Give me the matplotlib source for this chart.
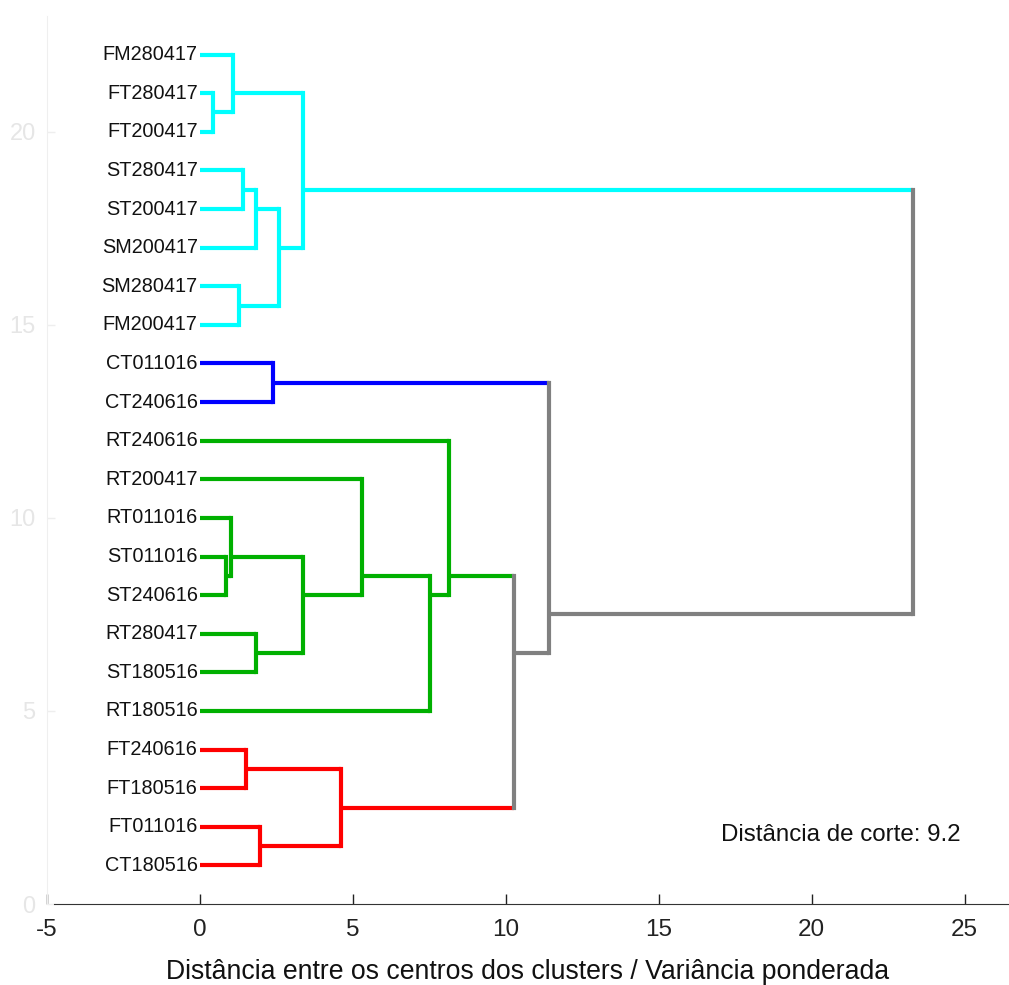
import numpy as np
import matplotlib
matplotlib.use("Agg")
import matplotlib.pyplot as plt

plt.rcParams['font.family'] = ['Liberation Sans', 'DejaVu Sans']
plt.rcParams['axes.unicode_minus'] = False

# Leaf labels, from bottom (y=1) to top (y=22)
labels = ['CT180516', 'FT011016', 'FT180516', 'FT240616', 'RT180516', 'ST180516',
          'RT280417', 'ST240616', 'ST011016', 'RT011016', 'RT200417', 'RT240616',
          'CT240616', 'CT011016', 'FM200417', 'SM280417', 'SM200417', 'ST200417',
          'ST280417', 'FT200417', 'FT280417', 'FM280417']

# Linkage: child a, child b, merge distance (new nodes numbered from 22 upward)
link_a = [7, 20, 9, 21, 15, 18, 3, 6, 27, 1, 13, 30, 24, 25, 28, 10, 37, 11, 39, 32, 35]
link_b = [8, 19, 22, 23, 14, 17, 2, 5, 16, 0, 12, 26, 29, 33, 31, 34, 4, 38, 36, 40, 41]
link_d = [0.85, 0.44, 1.03, 1.09, 1.29, 1.42, 1.52, 1.83, 1.85, 1.98, 2.40, 2.59,
          3.38, 3.38, 4.63, 5.30, 7.54, 8.15, 10.26, 11.40, 23.30]

cut = 9.2
palette = ['#00FFFF', '#0000FF', '#00B000', '#FF0000']
above_color = '#808080'

n = len(labels)
m = len(link_d)
leaves = {i: [i] for i in range(n)}
height = {i: 0.0 for i in range(n)}
parent = {}
for k, (a, b, d) in enumerate(zip(link_a, link_b, link_d)):
    leaves[n + k] = leaves[a] + leaves[b]
    height[n + k] = d
    parent[a] = n + k
    parent[b] = n + k

def ypos(node):
    # node sits at the mean position of all its leaves
    return np.mean(leaves[node]) + 1

# clusters below the cut: nodes under the cut whose parent is above it
roots = [nd for nd in range(n, n + m)
         if height[nd] < cut and height[parent[nd]] >= cut]
roots.sort(key=lambda nd: -ypos(nd))
node_color = {nd: above_color for nd in range(n + m)}
for r, c in zip(roots, palette):
    for nd in range(n + m):
        if set(leaves[nd]) <= set(leaves[r]):
            node_color[nd] = c

fig = plt.figure(figsize=(10.09, 9.85), dpi=100)
ax = fig.add_axes([0.0464, 0.0822, 0.9536, 0.9016])

lw = 3
for k, (a, b, d) in enumerate(zip(link_a, link_b, link_d)):
    nd = n + k
    ya, yb = ypos(a), ypos(b)
    # horizontal arms take the child's colour, the vertical bar the node's own
    ax.plot([height[a], d], [ya, ya], color=node_color[a], lw=lw,
            solid_capstyle='butt', zorder=2)
    ax.plot([height[b], d], [yb, yb], color=node_color[b], lw=lw,
            solid_capstyle='butt', zorder=2)
    ax.plot([d, d], [ya, yb], color=node_color[nd], lw=lw,
            solid_capstyle='projecting', zorder=3)

for i, lab in enumerate(labels):
    ax.text(-0.07, i + 1, lab, ha='right', va='center', fontsize=14.3, color='#111111')

ax.text(17.05, 1.78, 'Distância de corte: 9.2', ha='left', va='center',
        fontsize=17.4, color='#111111')

ax.set_xlim(-5, 26.45)
ax.set_ylim(0, 23)
ax.set_xticks([-5, 0, 5, 10, 15, 20, 25])
ax.set_yticks([0, 5, 10, 15, 20])
ax.tick_params(axis='x', direction='in', length=7, width=1, labelsize=17.5,
               pad=11, colors='#222222')
ax.tick_params(axis='y', direction='in', length=6, width=1, labelsize=17,
               pad=8, color='#eeeeee', labelcolor='#e6e6e6')

for side in ['top', 'right']:
    ax.spines[side].set_visible(False)
ax.spines['left'].set_color('#efefef')
ax.spines['bottom'].set_color('#333333')
ax.spines['bottom'].set_bounds(-4.75, 26.45)

ax.set_xlabel('Distância entre os centros dos clusters / Variância ponderada',
              fontsize=19.2, color='#111111', labelpad=13)

fig.savefig('out.png', dpi=100)
